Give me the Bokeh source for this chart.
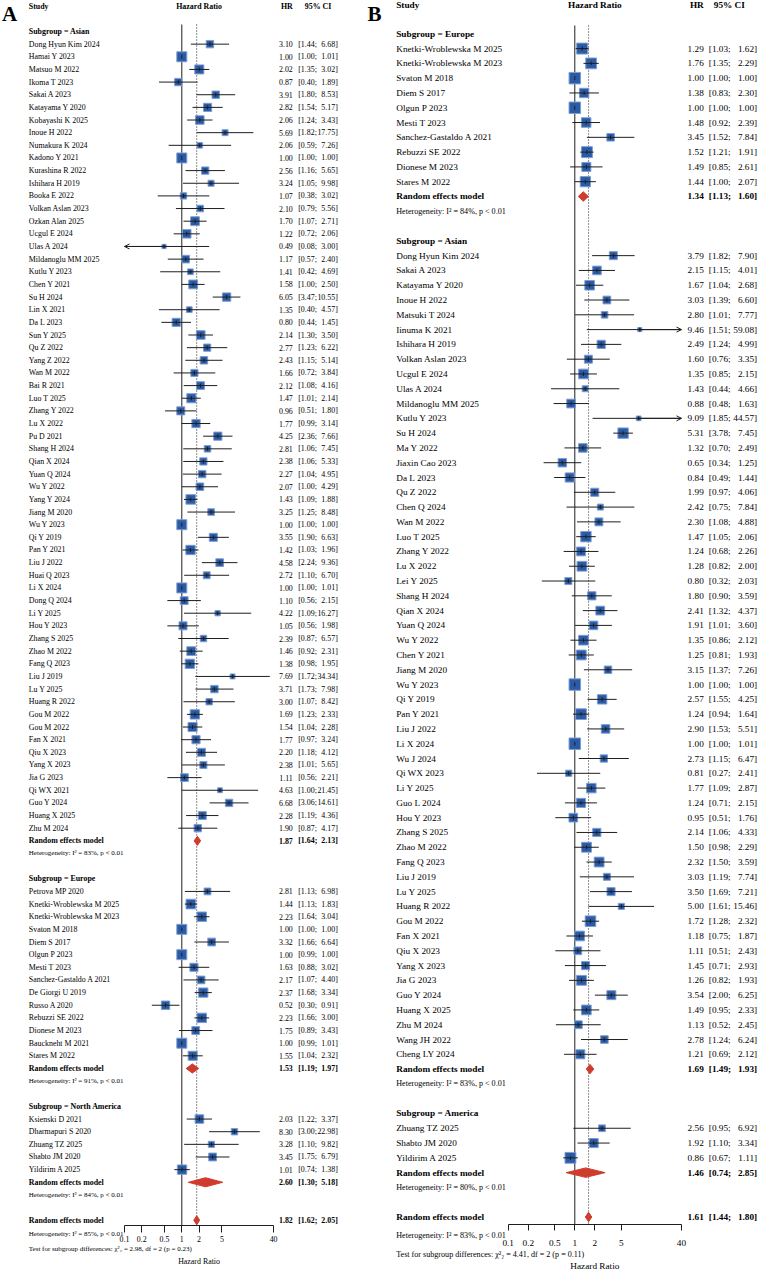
import numpy as np
from bokeh.plotting import figure
from bokeh.models import (Range1d, LinearScale, FixedTicker, CustomJSTickFormatter,
                          ColumnDataSource, Arrow, OpenHead)
from bokeh.layouts import row
from bokeh.embed import file_html
from bokeh.resources import INLINE
from bokeh.core.properties import value

# ---------------- Panel A data ----------------
a_asian_names = ["Dong Hyun Kim 2024", "Hamai Y 2023", "Matsuo M 2022", "Ikoma T 2023", "Sakai A 2023",
                 "Katayama Y 2020", "Kobayashi K 2025", "Inoue H 2022", "Numakura K 2024", "Kadono Y 2021",
                 "Kurashina R 2022", "Ishihara H 2019", "Booka E 2022", "Volkan Aslan 2023", "Ozkan Alan 2025",
                 "Ucgul E 2024", "Ulas A 2024", "Mildanoglu MM 2025", "Kutlu Y 2023", "Chen Y 2021",
                 "Su H 2024", "Lin X 2021", "Da L 2023", "Sun Y 2025", "Qu Z 2022", "Yang Z 2022", "Wan M 2022",
                 "Bai R 2021", "Luo T 2025", "Zhang Y 2022", "Lu X 2022", "Pu D 2021", "Shang H 2024",
                 "Qian X 2024", "Yuan Q 2024", "Wu Y 2022", "Yang Y 2024", "Jiang M 2020", "Wu Y 2023",
                 "Qi Y 2019", "Pan Y 2021", "Liu J 2022", "Huai Q 2023", "Li X 2024", "Dong Q 2024",
                 "Li Y 2025", "Hou Y 2023", "Zhang S 2025", "Zhao M 2022", "Fang Q 2023", "Liu J 2019",
                 "Lu Y 2025", "Huang R 2022", "Gou M 2022", "Gou M 2022", "Fan X 2021", "Qiu X 2023",
                 "Yang X 2023", "Jia G 2023", "Qi WX 2021", "Guo Y 2024", "Huang X 2025", "Zhu M 2024"]
a_asian_hr = [3.10, 1.00, 2.02, 0.87, 3.91, 2.82, 2.06, 5.69, 2.06, 1.00, 2.56, 3.24, 1.07, 2.10, 1.70, 1.22,
              0.49, 1.17, 1.41, 1.58, 6.05, 1.35, 0.80, 2.14, 2.77, 2.43, 1.66, 2.12, 1.47, 0.96, 1.77, 4.25,
              2.81, 2.38, 2.27, 2.07, 1.43, 3.25, 1.00, 3.55, 1.42, 4.58, 2.72, 1.00, 1.10, 4.22, 1.05, 2.39,
              1.46, 1.38, 7.69, 3.71, 3.00, 1.69, 1.54, 1.77, 2.20, 2.38, 1.11, 4.63, 6.68, 2.28, 1.90]
a_asian_lo = [1.44, 1.00, 1.35, 0.40, 1.80, 1.54, 1.24, 1.82, 0.59, 1.00, 1.16, 1.05, 0.38, 0.79, 1.07, 0.72,
              0.08, 0.57, 0.42, 1.00, 3.47, 0.40, 0.44, 1.30, 1.23, 1.15, 0.72, 1.08, 1.01, 0.51, 0.99, 2.36,
              1.06, 1.06, 1.04, 1.00, 1.09, 1.25, 1.00, 1.90, 1.03, 2.24, 1.10, 1.00, 0.56, 1.09, 0.56, 0.87,
              0.92, 0.98, 1.72, 1.73, 1.07, 1.23, 1.04, 0.97, 1.18, 1.01, 0.56, 1.00, 3.06, 1.19, 0.87]
a_asian_hi = [6.68, 1.01, 3.02, 1.89, 8.53, 5.17, 3.43, 17.75, 7.26, 1.00, 5.65, 9.98, 3.02, 5.56, 2.71, 2.06,
              3.00, 2.40, 4.69, 2.50, 10.55, 4.57, 1.45, 3.50, 6.22, 5.14, 3.84, 4.16, 2.14, 1.80, 3.14, 7.66,
              7.45, 5.33, 4.95, 4.29, 1.88, 8.48, 1.00, 6.63, 1.96, 9.36, 6.70, 1.01, 2.15, 16.27, 1.98, 6.57,
              2.31, 1.95, 34.34, 7.98, 8.42, 2.33, 2.28, 3.24, 4.12, 5.65, 2.21, 21.45, 14.61, 4.36, 4.17]

a_europe_names = ["Petrova MP 2020", "Knetki-Wroblewska M 2025", "Knetki-Wroblewska M 2023", "Svaton M 2018",
                  "Diem S 2017", "Olgun P 2023", "Mesti T 2023", "Sanchez-Gastaldo A 2021", "De Giorgi U 2019",
                  "Russo A 2020", "Rebuzzi SE 2022", "Dionese M 2023", "Bauckneht M 2021", "Stares M 2022"]
a_europe_hr = [2.81, 1.44, 2.23, 1.00, 3.32, 1.00, 1.63, 2.17, 2.37, 0.52, 2.23, 1.75, 1.00, 1.55]
a_europe_lo = [1.13, 1.13, 1.64, 1.00, 1.66, 0.99, 0.88, 1.07, 1.68, 0.30, 1.66, 0.89, 0.99, 1.04]
a_europe_hi = [6.98, 1.83, 3.04, 1.00, 6.64, 1.00, 3.02, 4.40, 3.34, 0.91, 3.00, 3.43, 1.01, 2.32]

a_na_names = ["Ksienski D 2021", "Dharmapuri S 2020", "Zhuang TZ 2025", "Shabto JM 2020", "Yildirim A 2025"]
a_na_hr = [2.03, 8.30, 3.28, 3.45, 1.01]
a_na_lo = [1.22, 3.00, 1.10, 1.75, 0.74]
a_na_hi = [3.37, 22.98, 9.82, 6.79, 1.38]

a_group_labels = ["Subgroup = Asian", "Subgroup = Europe", "Subgroup = North America"]
a_pool_hr = [1.87, 1.53, 2.60]
a_pool_lo = [1.64, 1.19, 1.30]
a_pool_hi = [2.13, 1.97, 5.18]
a_pool_i2 = [83, 91, 84]
a_overall = [1.82, 1.62, 2.05]
a_overall_i2 = 85
a_test = ["2.98", "2", "0.23"]

# ---------------- Panel B data ----------------
b_europe_names = ["Knetki-Wroblewska M 2025", "Knetki-Wroblewska M 2023", "Svaton M 2018", "Diem S 2017",
                  "Olgun P 2023", "Mesti T 2023", "Sanchez-Gastaldo A 2021", "Rebuzzi SE 2022",
                  "Dionese M 2023", "Stares M 2022"]
b_europe_hr = [1.29, 1.76, 1.00, 1.38, 1.00, 1.48, 3.45, 1.52, 1.49, 1.44]
b_europe_lo = [1.03, 1.35, 1.00, 0.83, 1.00, 0.92, 1.52, 1.21, 0.85, 1.00]
b_europe_hi = [1.62, 2.29, 1.00, 2.30, 1.00, 2.39, 7.84, 1.91, 2.61, 2.07]

b_asian_names = ["Dong Hyun Kim 2024", "Sakai A 2023", "Katayama Y 2020", "Inoue H 2022", "Matsuki T 2024",
                 "Iinuma K 2021", "Ishihara H 2019", "Volkan Aslan 2023", "Ucgul E 2024", "Ulas A 2024",
                 "Mildanoglu MM 2025", "Kutlu Y 2023", "Su H 2024", "Ma Y 2022", "Jiaxin Cao 2023", "Da L 2023",
                 "Qu Z 2022", "Chen Q 2024", "Wan M 2022", "Luo T 2025", "Zhang Y 2022", "Lu X 2022",
                 "Lei Y 2025", "Shang H 2024", "Qian X 2024", "Yuan Q 2024", "Wu Y 2022", "Chen Y 2021",
                 "Jiang M 2020", "Wu Y 2023", "Qi Y 2019", "Pan Y 2021", "Liu J 2022", "Li X 2024",
                 "Wu J 2024", "Qi WX 2023", "Li Y 2025", "Guo L 2024", "Hou Y 2023", "Zhang S 2025",
                 "Zhao M 2022", "Fang Q 2023", "Liu J 2019", "Lu Y 2025", "Huang R 2022", "Gou M 2022",
                 "Fan X 2021", "Qiu X 2023", "Yang X 2023", "Jia G 2023", "Guo Y 2024", "Huang X 2025",
                 "Zhu M 2024", "Wang JH 2022", "Cheng LY 2024"]
b_asian_hr = [3.79, 2.15, 1.67, 3.03, 2.80, 9.46, 2.49, 1.60, 1.35, 1.43, 0.88, 9.09, 5.31, 1.32, 0.65, 0.84,
              1.99, 2.42, 2.30, 1.47, 1.24, 1.28, 0.80, 1.80, 2.41, 1.91, 1.35, 1.25, 3.15, 1.00, 2.57, 1.24,
              2.90, 1.00, 2.73, 0.81, 1.77, 1.24, 0.95, 2.14, 1.50, 2.32, 3.03, 3.50, 5.00, 1.72, 1.18, 1.11,
              1.45, 1.26, 3.54, 1.49, 1.13, 2.78, 1.21]
b_asian_lo = [1.82, 1.15, 1.04, 1.39, 1.01, 1.51, 1.24, 0.76, 0.85, 0.44, 0.48, 1.85, 3.78, 0.70, 0.34, 0.49,
              0.97, 0.75, 1.08, 1.05, 0.68, 0.82, 0.32, 0.90, 1.32, 1.01, 0.86, 0.81, 1.37, 1.00, 1.55, 0.94,
              1.53, 1.00, 1.15, 0.27, 1.09, 0.71, 0.51, 1.06, 0.98, 1.50, 1.19, 1.69, 1.61, 1.28, 0.75, 0.51,
              0.71, 0.82, 2.00, 0.95, 0.52, 1.24, 0.69]
b_asian_hi = [7.90, 4.01, 2.68, 6.60, 7.77, 59.08, 4.99, 3.35, 2.15, 4.66, 1.63, 44.57, 7.45, 2.49, 1.25, 1.44,
              4.06, 7.84, 4.88, 2.06, 2.26, 2.00, 2.03, 3.59, 4.37, 3.60, 2.12, 1.93, 7.26, 1.00, 4.25, 1.64,
              5.51, 1.01, 6.47, 2.41, 2.87, 2.15, 1.76, 4.33, 2.29, 3.59, 7.74, 7.21, 15.46, 2.32, 1.87, 2.43,
              2.93, 1.93, 6.25, 2.33, 2.45, 6.24, 2.12]

b_america_names = ["Zhuang TZ 2025", "Shabto JM 2020", "Yildirim A 2025"]
b_america_hr = [2.56, 1.92, 0.86]
b_america_lo = [0.95, 1.10, 0.67]
b_america_hi = [6.92, 3.34, 1.11]

b_group_labels = ["Subgroup = Europe", "Subgroup = Asian", "Subgroup = America"]
b_pool_hr = [1.34, 1.69, 1.46]
b_pool_lo = [1.13, 1.49, 0.74]
b_pool_hi = [1.60, 1.93, 2.85]
b_pool_i2 = [84, 83, 80]
b_overall = [1.61, 1.44, 1.80]
b_overall_i2 = 83
b_test = ["4.41", "2", "0.11"]

tick_values = [0.1, 0.2, 0.5, 1, 2, 5, 40]

# ---------------- styling ----------------
FONT = "Liberation Serif"
BOX_FILL = "#2C5BA5"
BOX_LINE = "#7D9ED3"
DIAMOND = "#CF3B2D"
LINE = "#1E1E1E"
Z = 1.959964
H = 1269

geomA = dict(W=364, px1=181.3, dec=57.3, r0=31.0, rs=12.646, study_x=28.3, hr_x=292.3, ci_l=297.7,
             ci_r=337.3, ci_head=317.5, fs=7.9, hfs=7.0, box_max=10.0, dh=0.36, axis_px=1225.0,
             het_px=1233.3, test_px=1248.7, xlab_px=1260.7, head_px=5.5, lab_x=1.5, lab_px=13.0,
             ref_top=24.0, tick_out=7, standoff=3, lab_fs=21)
geomB = dict(W=394, px1=210.3, dec=66.6, r0=33.3, rs=14.79, study_x=31.7, hr_x=339.3, ci_l=344.3,
             ci_r=392.7, ci_head=364.8, fs=9.25, hfs=8.1, box_max=11.5, dh=0.32, axis_px=1224.0,
             het_px=1235.3, test_px=1254.0, xlab_px=1265.0, head_px=4.0, lab_x=3.0, lab_px=13.0,
             ref_top=25.0, tick_out=6, standoff=9, lab_fs=21)


def solve_tau2(se2, se_re):
    target = 1.0 / se_re ** 2
    lo_t, hi_t = 1e-4, 5.0
    for _ in range(100):
        mid = 0.5 * (lo_t + hi_t)
        if np.sum(1.0 / (se2 + mid)) > target:
            lo_t = mid
        else:
            hi_t = mid
    return 0.5 * (lo_t + hi_t)


def build_panel(letter, groups, overall, overall_i2, test, g):
    W = g["W"]
    r0, rs = g["r0"], g["rs"]

    def yrow(px):
        return (px - r0) / rs

    x0 = 10 ** (-g["px1"] / g["dec"])
    x1 = 10 ** ((W - g["px1"]) / g["dec"])
    p = figure(width=W, height=H, x_axis_type="log", x_range=Range1d(x0, x1),
               y_range=Range1d(yrow(H), yrow(0)), y_axis_location=None,
               output_backend="svg", toolbar_location=None, min_border=0)
    p.extra_x_ranges = {"px": Range1d(0, W)}
    p.extra_x_scales = {"px": LinearScale()}
    p.grid.visible = False
    p.outline_line_color = None
    p.background_fill_color = "white"
    p.border_fill_color = "white"

    texts = {}

    def T(x, y, s, align="left", bold=False, size=None, rng="px"):
        key = (align, bold, size if size is not None else g["fs"], rng)
        d = texts.setdefault(key, {"x": [], "y": [], "t": []})
        d["x"].append(x)
        d["y"].append(y)
        d["t"].append(s)

    def ci_text(y, lo, hi, bold=False):
        T(g["ci_l"], y, f"[{lo:.2f};", "left", bold)
        T(g["ci_r"], y, f"{hi:.2f}]", "right", bold)

    st = {"y": [], "hr": [], "lo": [], "hi": []}
    dia = {"xs": [], "ys": []}
    i = 0
    for (glabel, names, hr, lo, hi, phr, plo, phi, pi2) in groups:
        T(g["study_x"], i, glabel, bold=True)
        i += 1
        for n, h, l, u in zip(names, hr, lo, hi):
            T(g["study_x"], i, n)
            T(g["hr_x"], i, f"{h:.2f}", "right")
            ci_text(i, l, u)
            st["y"].append(i); st["hr"].append(h); st["lo"].append(l); st["hi"].append(u)
            i += 1
        T(g["study_x"], i, "Random effects model", bold=True)
        T(g["hr_x"], i, f"{phr:.2f}", "right", bold=True)
        ci_text(i, plo, phi, bold=True)
        dia["xs"].append([plo, phr, phi, phr])
        dia["ys"].append([i, i - g["dh"], i, i + g["dh"]])
        i += 1
        T(g["study_x"], i, f"Heterogeneity: I\u00b2 = {pi2}%, p < 0.01", size=g["hfs"])
        i += 2
    # overall
    ohr, olo, ohi = overall
    T(g["study_x"], i, "Random effects model", bold=True)
    T(g["hr_x"], i, f"{ohr:.2f}", "right", bold=True)
    ci_text(i, olo, ohi, bold=True)
    dia["xs"].append([olo, ohr, ohi, ohr])
    dia["ys"].append([i, i - g["dh"], i, i + g["dh"]])
    T(g["study_x"], yrow(g["het_px"]), f"Heterogeneity: I\u00b2 = {overall_i2}%, p < 0.01", size=g["hfs"])
    T(g["study_x"], yrow(g["test_px"]),
      f"Test for subgroup differences: \u03c7\u00b2\u2082 = {test[0]}, df = {test[1]} (p = {test[2]})",
      size=g["hfs"])
    T(2, yrow(g["xlab_px"]), "Hazard Ratio", "center", rng="default")

    # header
    hy = yrow(g["head_px"])
    T(g["study_x"], hy, "Study", bold=True)
    T(2, hy, "Hazard Ratio", "center", bold=True, rng="default")
    T(g["hr_x"], hy, "HR", "right", bold=True)
    T(g["ci_head"], hy, "95% CI", "center", bold=True)
    T(g["lab_x"], yrow(g["lab_px"]), letter, bold=True, size=g["lab_fs"])

    axis_row = yrow(g["axis_px"])
    top_row = yrow(g["ref_top"])

    # reference lines
    p.segment(x0=[1], y0=[top_row], x1=[1], y1=[axis_row], line_color=LINE, line_width=1)
    p.segment(x0=[ohr], y0=[top_row], x1=[ohr], y1=[axis_row], line_color=LINE, line_width=1,
              line_dash="1 2")

    # study weights -> box sizes (random-effects weights)
    hr_a = np.array(st["hr"]); lo_a = np.array(st["lo"]); hi_a = np.array(st["hi"])
    se = (np.log(hi_a) - np.log(lo_a)) / (2 * Z)
    se2 = se ** 2
    se_re = (np.log(ohi) - np.log(olo)) / (2 * Z)
    tau2 = solve_tau2(se2, se_re)
    sizes = g["box_max"] * np.sqrt(tau2 / (se2 + tau2))

    lo_d = np.clip(lo_a, 0.1, 40)
    hi_d = np.clip(hi_a, 0.1, 40)
    src = ColumnDataSource(dict(y=st["y"], hr=hr_a, lo=lo_d, hi=hi_d, size=sizes))
    p.scatter(x="hr", y="y", size="size", marker="square", source=src, fill_color=BOX_FILL,
              line_color=BOX_LINE, line_width=1)
    p.segment(x0="lo", y0="y", x1="hi", y1="y", source=src, line_color=LINE, line_width=1)
    p.scatter(x="hr", y="y", marker="dash", angle=np.pi / 2, size=4, source=src, line_color=LINE,
              line_width=1)

    # arrows for truncated CIs
    arr = {"xs": [], "xe": [], "y": []}
    for yv, h, l, u in zip(st["y"], st["hr"], st["lo"], st["hi"]):
        if l < 0.1:
            arr["xs"].append(h); arr["xe"].append(0.1); arr["y"].append(yv)
        if u > 40:
            arr["xs"].append(h); arr["xe"].append(40); arr["y"].append(yv)
    if arr["y"]:
        p.add_layout(Arrow(end=OpenHead(size=5, line_color=LINE, line_width=1),
                           x_start="xs", y_start="y", x_end="xe", y_end="y",
                           source=ColumnDataSource(arr), line_color=LINE, line_width=1))

    p.patches(xs="xs", ys="ys", source=ColumnDataSource(dia), fill_color=DIAMOND, line_color=DIAMOND,
              line_width=1)

    for (align, bold, size, rng), d in texts.items():
        kw = {} if rng == "default" else {"x_range_name": rng}
        p.text(x="x", y="y", text="t", source=ColumnDataSource(d), text_align=align,
               text_baseline="middle", text_font=value(FONT), text_font_size=value(f"{size}px"),
               text_font_style="bold" if bold else "normal", text_color="black", **kw)

    # axis
    ax = p.xaxis[0]
    ax.fixed_location = axis_row
    ax.ticker = FixedTicker(ticks=tick_values, minor_ticks=[])
    ax.formatter = CustomJSTickFormatter(code="return tick.toString()")
    ax.bounds = (0.1, 40)
    ax.axis_line_color = LINE
    ax.axis_line_width = 1
    ax.major_tick_line_color = LINE
    ax.major_tick_in = 0
    ax.major_tick_out = g["tick_out"]
    ax.minor_tick_line_color = None
    ax.major_label_standoff = g["standoff"]
    ax.major_label_text_font = FONT
    ax.major_label_text_font_size = f"{g['fs']}px"
    ax.major_label_text_color = "black"
    ax.axis_label = None
    return p


groupsA = [
    (a_group_labels[0], a_asian_names, a_asian_hr, a_asian_lo, a_asian_hi,
     a_pool_hr[0], a_pool_lo[0], a_pool_hi[0], a_pool_i2[0]),
    (a_group_labels[1], a_europe_names, a_europe_hr, a_europe_lo, a_europe_hi,
     a_pool_hr[1], a_pool_lo[1], a_pool_hi[1], a_pool_i2[1]),
    (a_group_labels[2], a_na_names, a_na_hr, a_na_lo, a_na_hi,
     a_pool_hr[2], a_pool_lo[2], a_pool_hi[2], a_pool_i2[2]),
]
groupsB = [
    (b_group_labels[0], b_europe_names, b_europe_hr, b_europe_lo, b_europe_hi,
     b_pool_hr[0], b_pool_lo[0], b_pool_hi[0], b_pool_i2[0]),
    (b_group_labels[1], b_asian_names, b_asian_hr, b_asian_lo, b_asian_hi,
     b_pool_hr[1], b_pool_lo[1], b_pool_hi[1], b_pool_i2[1]),
    (b_group_labels[2], b_america_names, b_america_hr, b_america_lo, b_america_hi,
     b_pool_hr[2], b_pool_lo[2], b_pool_hi[2], b_pool_i2[2]),
]

pA = build_panel("A", groupsA, a_overall, a_overall_i2, a_test, geomA)
pB = build_panel("B", groupsB, b_overall, b_overall_i2, b_test, geomB)

layout = row(pA, pB)
open("out.html", "w").write(file_html(layout, INLINE, title="Forest plots"))
